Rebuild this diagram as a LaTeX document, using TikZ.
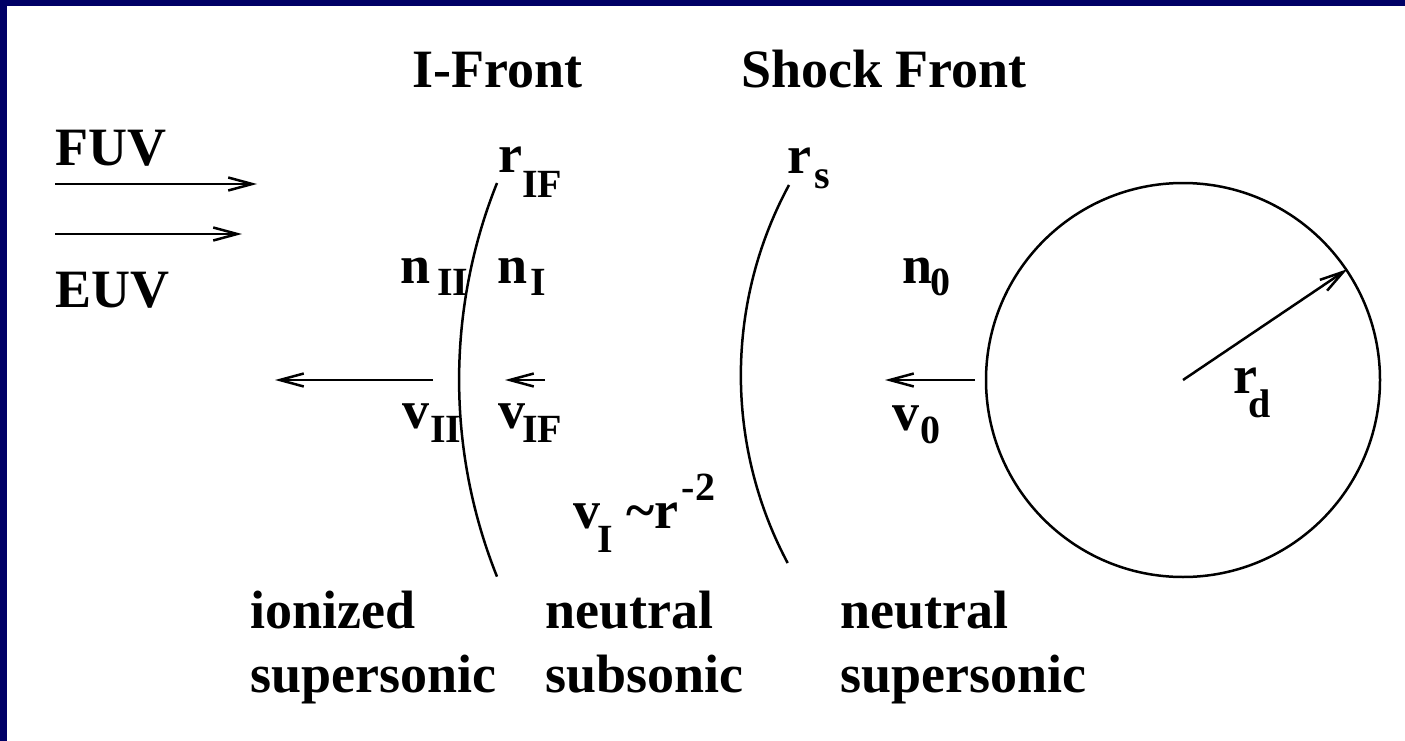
\documentclass[tikz,border=0pt]{standalone}
\usepackage{fontspec}
\setmainfont{Liberation Serif}
\usetikzlibrary{arrows.meta}
\definecolor{slidenavy}{RGB}{0,0,102}
\newcommand{\subfont}{\fontsize{40}{44}\selectfont}
\tikzset{
  lbl/.style={font=\fontsize{54}{60}\selectfont\bfseries, inner sep=0pt, anchor=base west},
  front/.style={line width=2.5pt},
  arr/.style={line width=2.5pt, -{Straight Barb[length=24pt,width=13pt,line width=2.5pt]}}
}

\begin{document}
\begin{tikzpicture}[x=1pt, y=-1pt]
      \useasboundingbox (0,0) rectangle (1405,741);
      % slide frame
      \fill[slidenavy] (0,0) rectangle (1405,741);
      \fill[white] (7,6) rectangle (1405,741);
      % titles
      \node[lbl] (ifront) at (412,88) {I-Front};
      \node[lbl] (sfront) at (741,88) {Shock Front};
      % incoming radiation
      \node[lbl] (fuv) at (55,165) {FUV};
      \node[lbl] (euv) at (55,307) {EUV};
      \coordinate (fuvA) at (55,184);  \coordinate (fuvB) at (257,184);
      \coordinate (euvA) at (55,234);  \coordinate (euvB) at (242,234);
      \draw[arr] (fuvA) -- (fuvB);
      \draw[arr] (euvA) -- (euvB);
      % the two fronts
      \draw[front] (497,183) arc[start angle=201.8, end angle=158.2, radius=530];
      \draw[front] (789,185) arc[start angle=208.4, end angle=152, radius=400];
      \node[lbl] (rif) at (498,172) {r\raisebox{-25pt}{\subfont IF}};
      \node[lbl] (rs) at (787,173) {r\kern3pt\raisebox{-15pt}{\subfont s}};
      % densities
      \node[lbl] (nii) at (400,283) {n\kern7pt\raisebox{-12pt}{\subfont II}};
      \node[lbl] (ni) at (497,283) {n\kern3pt\raisebox{-12pt}{\subfont I}};
      \node[lbl] (nzero) at (902,283) {n\kern-2pt\raisebox{-12pt}{\subfont 0}};
      % velocities
      \coordinate (viiA) at (433,380);  \coordinate (viiB) at (275,380);
      \coordinate (vifA) at (545,380);  \coordinate (vifB) at (505,380);
      \coordinate (vzA) at (975,380);   \coordinate (vzB) at (885,380);
      \draw[arr] (viiA) -- (viiB);
      \draw[arr] (vifA) -- (vifB);
      \draw[arr] (vzA) -- (vzB);
      \node[lbl] (vii) at (402,428) {v\kern1pt\raisebox{-14pt}{\subfont II}};
      \node[lbl] (vif) at (498,428) {v\kern-3pt\raisebox{-14pt}{\subfont IF}};
      \node[lbl] (vzero) at (892,430) {v\kern1pt\raisebox{-13pt}{\subfont 0}};
      \node[lbl] (vi) at (573,528) {v\kern-3pt\raisebox{-24pt}{\subfont I}\kern14pt\textasciitilde r\kern3pt\raisebox{28pt}{\subfont -2}};
      % the disk
      \node[circle, draw, line width=2.5pt, minimum size=394pt, inner sep=0pt] (disk) at (1183,380) {};
      \draw[arr] (disk.center) -- (disk.34.7);
      \node[lbl] (rd) at (1233,393) {r\kern-9pt\raisebox{-24pt}{\subfont d}};
      % regions
      \node[lbl] (ion) at (250,628) {ionized};
      \node[lbl] (ionb) at (250,692) {supersonic};
      \node[lbl] (neu) at (545,628) {neutral};
      \node[lbl] (neub) at (545,692) {subsonic};
      \node[lbl] (neo) at (840,628) {neutral};
      \node[lbl] (neob) at (840,692) {supersonic};
    \end{tikzpicture}
\end{document}
